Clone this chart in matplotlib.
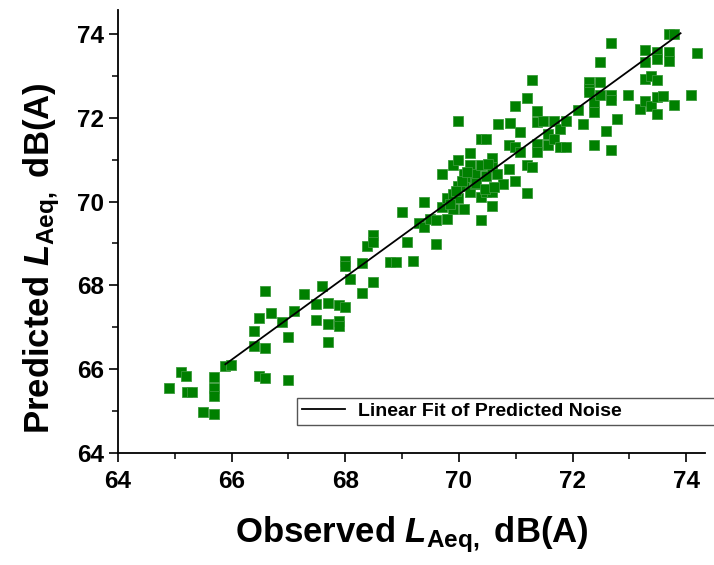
import matplotlib
matplotlib.use("Agg")
import matplotlib.pyplot as plt
import numpy as np

# observed vs predicted LAeq
observed = [
    64.90, 65.11, 65.20, 65.21, 65.30, 65.50, 65.69, 65.69, 65.69, 65.69,
    65.89, 65.99, 66.49, 66.59, 66.99,
    66.40, 66.40, 66.49, 66.59, 66.59, 66.70, 66.89, 66.99, 67.10, 67.28,
    67.49, 67.49, 67.59, 67.70, 67.70, 67.70, 67.89, 67.89, 67.89, 67.99,
    67.99, 67.99, 68.09, 68.29, 68.29, 68.39, 68.49, 68.49, 68.49, 68.79,
    68.89, 69.00, 69.09, 69.20, 69.29, 69.39, 69.39, 69.49, 69.60, 69.60,
    69.70, 69.70, 69.79, 69.79, 69.89, 69.89, 69.89, 69.99, 69.99, 69.99,
    69.99, 70.09, 70.09, 70.09, 70.19, 70.19, 70.19, 70.19, 70.28, 70.28,
    70.38, 70.38, 70.38, 70.39, 70.48, 70.48, 70.48, 70.58, 70.58, 70.58,
    70.58, 70.67, 70.68, 70.77, 70.88, 70.88, 70.90, 70.98, 70.98, 70.99,
    71.07, 71.08, 71.19, 71.19, 71.19, 71.29, 71.29, 71.38, 71.38, 71.38,
    71.38, 71.48, 71.57, 71.57, 71.67, 71.68, 71.77, 71.77, 71.89, 71.89,
    72.09, 72.19, 72.29, 72.29, 72.29, 72.38, 72.38, 72.38, 72.48, 72.48,
    72.48, 72.58, 72.67, 72.67, 72.67, 72.67, 72.78, 72.98, 73.19, 73.28,
    73.28, 73.28, 73.28, 73.38, 73.38, 73.48, 73.48, 73.48, 73.48, 73.48,
    73.59, 73.69, 73.69, 73.69, 73.78, 73.79, 74.09, 74.19,
    69.95, 70.05, 70.30, 70.45, 70.62, 69.85, 70.15, 70.52,
]
predicted = [
    65.54, 65.93, 65.83, 65.45, 65.45, 64.97, 65.81, 65.54, 65.37, 64.93,
    66.08, 66.11, 65.83, 65.79, 65.75,
    66.92, 66.56, 67.22, 67.86, 66.50, 67.34, 67.12, 66.76, 67.40, 67.80,
    67.17, 67.56, 67.98, 67.58, 67.08, 66.64, 67.53, 67.16, 67.04, 67.48,
    68.59, 68.47, 68.14, 68.53, 67.82, 68.95, 69.20, 69.03, 68.09, 68.55,
    68.55, 69.76, 69.04, 68.58, 69.49, 70.00, 69.39, 69.59, 69.55, 68.99,
    70.66, 69.86, 70.08, 69.59, 70.87, 70.18, 69.82, 70.98, 71.91, 70.38,
    70.08, 70.66, 70.38, 69.81, 71.16, 70.86, 70.58, 70.22, 70.66, 70.42,
    70.86, 69.55, 70.10, 71.49, 71.49, 70.62, 70.22, 71.03, 70.82, 70.22,
    69.90, 70.66, 71.85, 70.42, 70.78, 71.35, 71.87, 71.30, 70.50, 72.27,
    71.18, 71.67, 72.46, 70.87, 70.21, 70.82, 72.91, 72.15, 71.89, 71.37,
    71.18, 71.93, 71.34, 71.61, 71.49, 71.93, 71.73, 71.30, 71.30, 71.93,
    72.19, 71.85, 72.85, 72.69, 72.61, 71.34, 72.13, 72.37, 73.34, 72.85,
    72.53, 71.69, 73.78, 72.53, 72.43, 71.24, 71.97, 72.53, 72.21, 73.62,
    73.34, 72.93, 72.41, 72.99, 72.29, 72.90, 73.56, 73.40, 72.50, 72.09,
    72.51, 74.00, 73.56, 73.36, 74.00, 72.31, 72.55, 73.54,
    70.25, 70.50, 70.45, 70.30, 70.35, 69.95, 70.70, 70.90,
]

# linear fit as drawn in the reference
fit_x = [65.89, 73.90]
fit_slope = 0.986
fit_intercept = 1.15

x_ticks = [64, 66, 68, 70, 72, 74]
y_ticks = [64, 66, 68, 70, 72, 74]

plt.rcParams["font.family"] = "Liberation Sans"
plt.rcParams["font.weight"] = "bold"
plt.rcParams["mathtext.fontset"] = "custom"
plt.rcParams["mathtext.rm"] = "Liberation Sans:bold"
plt.rcParams["mathtext.bf"] = "Liberation Sans:bold"
plt.rcParams["mathtext.it"] = "Liberation Sans:bold:italic"

fig = plt.figure(figsize=(7.14, 5.65), dpi=100)
ax = fig.add_axes([118 / 714, 1 - 453 / 565, 587 / 714, 443 / 565])

ax.plot(observed, predicted, ls="none", marker="s", ms=7.2,
        mfc="#008000", mec="#3a9a3a", mew=0.6, zorder=2)

fx = np.array(fit_x)
ax.plot(fx, fit_slope * fx + fit_intercept, color="black", lw=1.3,
        label="Linear Fit of Predicted Noise", zorder=3)

ax.set_xlim(64, 74.33)
ax.set_ylim(64, 74.57)
ax.set_xticks(x_ticks)
ax.set_yticks(y_ticks)
ax.set_xticks(np.arange(65, 75, 2), minor=True)
ax.set_yticks(np.arange(65, 75, 2), minor=True)
ax.tick_params(which="major", direction="out", length=6.8, width=1.2,
               labelsize=17.5)
ax.tick_params(which="minor", direction="out", length=4, width=1.1)
ax.tick_params(axis="x", which="major", pad=5.5)
ax.tick_params(axis="y", which="major", pad=3)

for side in ["top", "right"]:
    ax.spines[side].set_visible(False)
for side in ["left", "bottom"]:
    ax.spines[side].set_linewidth(1.3)

ax.set_xlabel(r"Observed $L_{\mathbf{Aeq,}}$ dB(A)", fontsize=25,
              fontweight="bold", labelpad=15)
ax.set_ylabel(r"Predicted $L_{\mathbf{Aeq,}}$ dB(A)", fontsize=25,
              fontweight="bold")
ax.yaxis.set_label_coords(-0.095, 0.44)

leg = ax.legend(loc="lower left",
                bbox_to_anchor=(297 / 714, 140 / 565, 440 / 714, 29 / 565),
                bbox_transform=fig.transFigure, mode="expand",
                fancybox=False, framealpha=1, edgecolor="#555555",
                fontsize=14, handlelength=2.2, borderpad=0.25,
                handletextpad=0.7, borderaxespad=0)
leg.get_frame().set_linewidth(1.0)

fig.savefig("out.png", dpi=100)
